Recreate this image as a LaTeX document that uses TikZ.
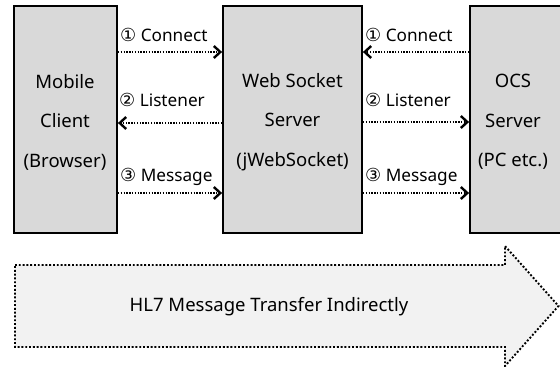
\documentclass[tikz,border=0pt]{standalone}
\usepackage{fontspec}
\setmainfont{Noto Sans}
\newfontfamily\symf{DejaVu Sans}
\usetikzlibrary{arrows.meta}
\definecolor{boxgray}{HTML}{D9D9D9}
\definecolor{arrowgray}{HTML}{F2F2F2}
\newcommand{\circnum}[1]{{\symf\fontsize{18}{18}\selectfont #1}}
\tikzset{
  box/.style={draw=black, line width=1.8pt, fill=boxgray, minimum height=227pt, inner sep=0pt},
  boxtext/.style={align=center, font=\fontsize{18.5}{39.5}\selectfont, inner sep=0pt},
  lbl/.style={anchor=west, font=\fontsize{17.2}{18}\selectfont, inner sep=0pt},
  conn/.style={line width=1.9pt, dash pattern=on 1.4pt off 1.4pt, -{Straight Barb[length=6.5pt,width=12pt,line width=2.4pt]}},
  bigarrow/.style={draw=black, line width=1.9pt, dash pattern=on 1.9pt off 1.9pt, fill=arrowgray},
}
\begin{document}
\begin{tikzpicture}[x=1pt,y=-1pt]
\useasboundingbox (0,0) rectangle (560,367);
\fill[white] (0,0) rectangle (560,367);
% boxes
\node[box, minimum width=103pt] (b1) at (65.5,119.5) {};
\node[box, minimum width=139pt] (b2) at (292.5,119.5) {};
\node[box, minimum width=94pt] (b3) at (517,119.5) {};
\node[boxtext] (t1) at (65,122) {Mobile\\Client\\(Browser)};
\node[boxtext] (t2) at (292.5,122) {Web Socket\\Server\\(jWebSocket)};
\node[boxtext] (t3) at (513,122) {OCS\\Server\\(PC etc.)};
% left connectors
\draw[conn] (b1.east |- 0,52) -- (b2.west |- 0,52);
\draw[conn] (b2.west |- 0,123) -- (b1.east |- 0,123);
\draw[conn] (b1.east |- 0,193) -- (b2.west |- 0,193);
\node[lbl] (l1) at (120,35) {\circnum{①} Connect};
\node[lbl] (l2) at (119,100) {\circnum{②} Listener};
\node[lbl] (l3) at (120,177) {\circnum{③} Message};
% right connectors
\draw[conn] (b3.west |- 0,52) -- (b2.east |- 0,52);
\draw[conn] (b2.east |- 0,122) -- (b3.west |- 0,122);
\draw[conn] (b2.east |- 0,193) -- (b3.west |- 0,193);
\node[lbl] (r1) at (365,35) {\circnum{①} Connect};
\node[lbl] (r2) at (365,100) {\circnum{②} Listener};
\node[lbl] (r3) at (365,177) {\circnum{③} Message};
% big arrow
\draw[bigarrow] (15,265) -- (505,265) -- (505,246) -- (558.5,306) -- (505,366) -- (505,347) -- (15,347) -- cycle;
\node[font=\fontsize{18.5}{20}\selectfont, inner sep=0pt] (hl7) at (269,307) {HL7 Message Transfer Indirectly};
\end{tikzpicture}
\end{document}
